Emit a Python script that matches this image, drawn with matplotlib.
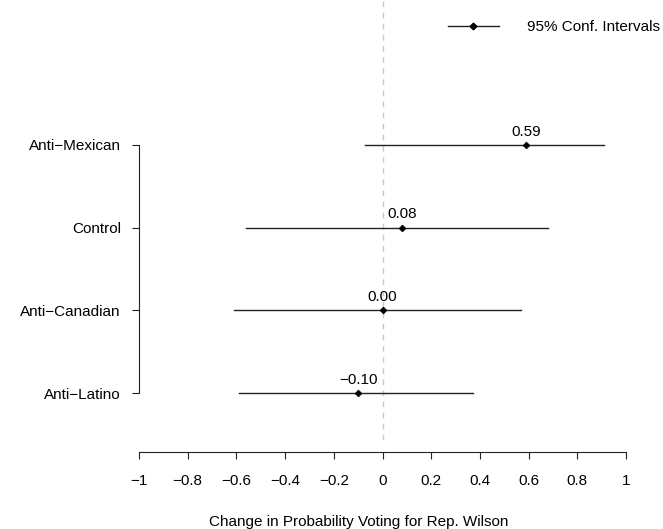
import matplotlib.pyplot as plt
from matplotlib.lines import Line2D

plt.rcParams['font.family'] = ['Liberation Sans', 'DejaVu Sans']

# conditions from top to bottom
groups = ["Anti\u2212Mexican", "Control", "Anti\u2212Canadian", "Anti\u2212Latino"]
ypos = [4, 3, 2, 1]
est = [0.59, 0.08, 0.00, -0.10]
lower = [-0.07, -0.56, -0.61, -0.59]
upper = [0.91, 0.68, 0.57, 0.37]
labels = ["0.59", "0.08", "0.00", "\u22120.10"]
xticks = [-1, -0.8, -0.6, -0.4, -0.2, 0, 0.2, 0.4, 0.6, 0.8, 1]
xticklabels = ["\u22121", "\u22120.8", "\u22120.6", "\u22120.4", "\u22120.2", "0",
               "0.2", "0.4", "0.6", "0.8", "1"]

fs = 11
W, H = 663, 529
fig = plt.figure(figsize=(W / 100, H / 100), dpi=100)
ax = fig.add_axes([139 / W, (H - 440) / H, (626 - 139) / W, 440 / H])
ax.set_xlim(-1, 1)
ax.set_ylim(1 - 47 / 82.67, 4 + 145 / 82.67)

ax.axvline(0, color="#c8c8c8", lw=1, ls=(0, (4, 4)), zorder=0)

for y, e, lo, hi, lab in zip(ypos, est, lower, upper, labels):
    ax.plot([lo, hi], [y, y], color="#222222", lw=1.0)
    ax.plot(e, y, marker="D", ms=3.4, color="black", mec="black", mew=0.6)
    ax.annotate(lab, (e, y), xytext=(0, 4.5), textcoords="offset points",
                ha="center", va="bottom", fontsize=fs)

for s in ["top", "right"]:
    ax.spines[s].set_visible(False)
ax.spines["left"].set_bounds(1, 4)
ax.spines["bottom"].set_position(("outward", 8.6))
ax.spines["bottom"].set_bounds(-1, 1)
for s in ["left", "bottom"]:
    ax.spines[s].set_linewidth(0.8)
    ax.spines[s].set_color("#222222")

ax.set_yticks(ypos)
ax.set_yticklabels(groups, fontsize=fs)
ax.set_xticks(xticks)
ax.set_xticklabels(xticklabels, fontsize=fs)
ax.tick_params(length=5, width=0.8, color="#222222")
ax.tick_params(axis="x", pad=11)
ax.tick_params(axis="y", pad=8)
ax.set_xlabel("Change in Probability Voting for Rep. Wilson", fontsize=fs)
ax.xaxis.set_label_coords((358.5 - 139) / 487, -0.170)

handle = Line2D([], [], color="#222222", lw=1.0, marker="D", ms=3.4,
                mfc="black", mec="black")
ax.legend([handle], ["95% Conf. Intervals"], frameon=False, fontsize=fs,
          handlelength=3.3, handletextpad=1.85, borderaxespad=0,
          loc="center left", bbox_to_anchor=(442 / W, (H - 27) / H),
          bbox_transform=fig.transFigure)

fig.savefig("out.png", dpi=100)
